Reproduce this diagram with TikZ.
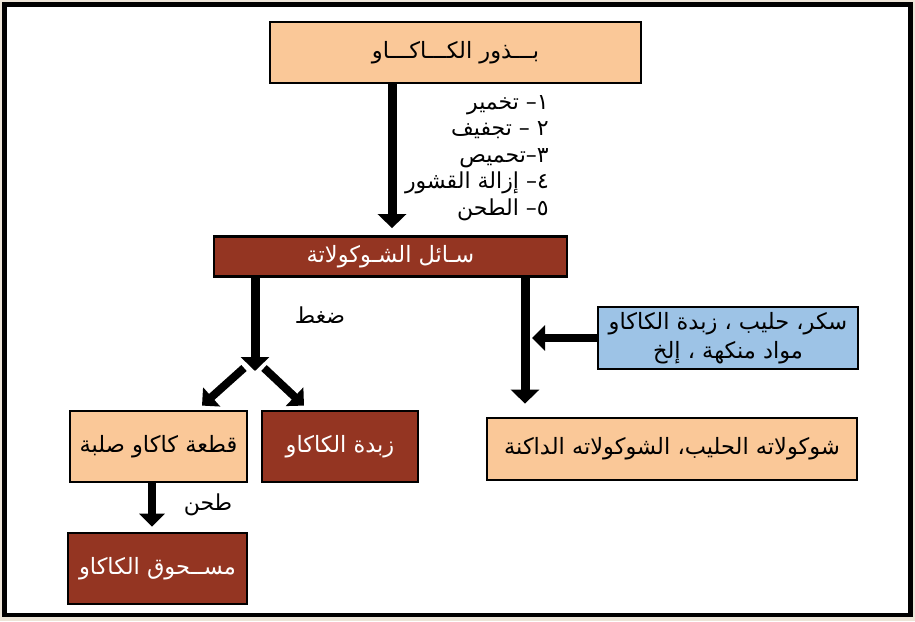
\documentclass[tikz,border=0pt]{standalone}
\usepackage{fontspec}
\usetikzlibrary{arrows.meta}
\newfontfamily\arabicfont[Script=Arabic]{DejaVu Sans}
\TeXXeTstate=1
\newcommand{\artext}[1]{\beginR #1\endR}
\definecolor{peach}{HTML}{FAC898}
\definecolor{cocoa}{HTML}{943522}
\definecolor{skyblue}{HTML}{9DC3E6}
\definecolor{paper}{HTML}{EDE5D8}

\begin{document}
\begin{tikzpicture}[x=1pt,y=-1pt,
		box/.style={draw=black, line width=2.8pt, inner sep=0pt, align=center, font=\arabicfont\fontsize{22.5}{29}\selectfont},
		label/.style={inner sep=0pt, align=right, font=\arabicfont\fontsize{22}{26.5}\selectfont},
		bigarrow/.style={line width=9pt, -{Triangle[width=28pt,length=14pt]}},
		smallarrow/.style={line width=8pt, -{Triangle[width=25pt,length=13pt]}}]
		\fill[paper] (0,0) rectangle (915,621);
		\draw[line width=4.5pt, fill=white] (4.5,4.5) rectangle (910.5,615);
		\node[box, fill=peach, minimum width=371, minimum height=61] (seeds) at (455.5,52.5) {\artext{بـــذور الكـــاكـــاو}};
		\node[box, fill=cocoa, text=white, minimum width=353, minimum height=40] (liquid) at (390.5,256.5) {\artext{سـائل الشـوكولاتة}};
		\node[box, fill=peach, minimum width=177, minimum height=71] (solid) at (158.5,446.5) {\artext{قطعة كاكاو صلبة}};
		\node[box, fill=cocoa, text=white, minimum width=156, minimum height=71] (butter) at (340,446.5) {\artext{زبدة الكاكاو}};
		\node[box, fill=cocoa, text=white, minimum width=179, minimum height=71] (powder) at (157.5,568.5) {\artext{مســحوق الكاكاو}};
		\node[box, fill=skyblue, minimum width=260, minimum height=62] (extras) at (728,338) {\artext{سكر، حليب ، زبدة الكاكاو}\\\artext{مواد منكهة ، إلخ}};
		\node[box, fill=peach, minimum width=370, minimum height=62] (product) at (672,449) {\artext{شوكولاته الحليب، الشوكولاته الداكنة}};
		\node[label, anchor=north east] (steps) at (549,95) {\artext{١– تخمير}\\\artext{٢ – تجفيف}\\\artext{٣–تحميص}\\\artext{٤– إزالة القشور}\\\artext{٥– الطحن}};
		\node[label] (press) at (320,315) {\artext{ضغط}};
		\node[label] (grind) at (208,505) {\artext{طحن}};
		\coordinate (split) at (255,371);
		\coordinate (join) at (532,338);
		\draw[bigarrow] ([xshift=-63.5pt]seeds.south) -- ([xshift=1.5pt,yshift=7pt]liquid.north);
		\draw[bigarrow] ([xshift=-135.5pt]liquid.south) -- (split);
		\draw[smallarrow] ([xshift=-11pt,yshift=3pt]split) -- ([xshift=43.5pt,yshift=4pt]solid.north);
		\draw[smallarrow] ([xshift=9pt,yshift=3pt]split) -- ([xshift=-36pt,yshift=4pt]butter.north);
		\draw[bigarrow] ([xshift=134.5pt]liquid.south) -- ([xshift=-147pt,yshift=13pt]product.north);
		\draw[smallarrow] (extras.west) -- (join);
		\draw[smallarrow] ([xshift=-6.5pt]solid.south) -- ([xshift=-5.5pt,yshift=5pt]powder.north);
	\end{tikzpicture}
\end{document}
